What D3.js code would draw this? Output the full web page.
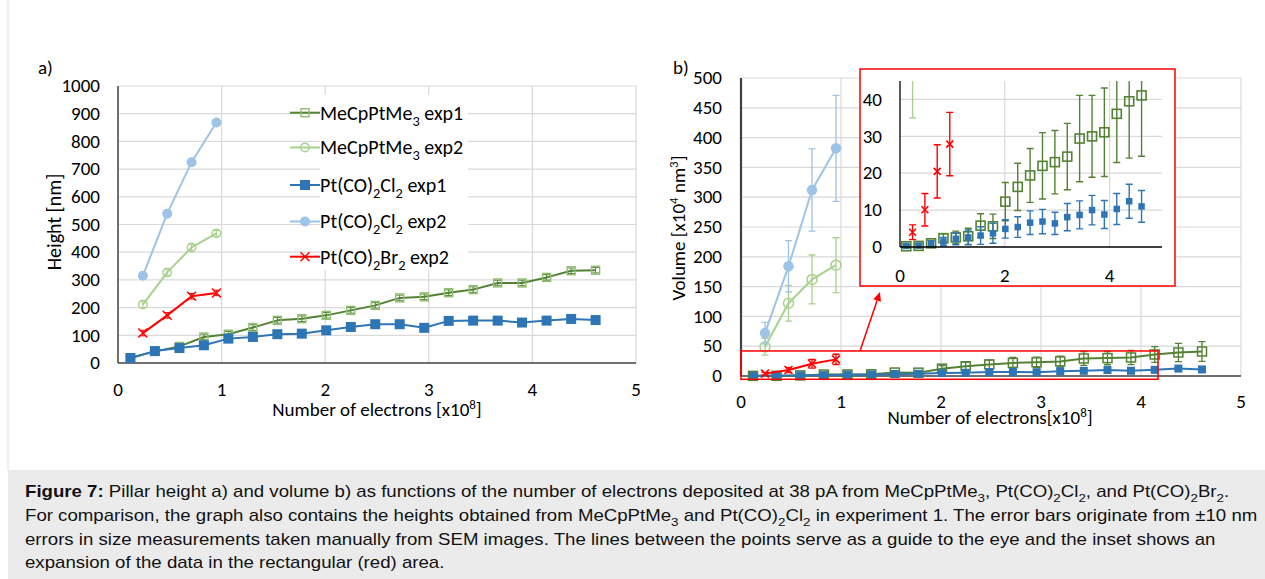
<!DOCTYPE html>
<html><head><meta charset="utf-8">
<script src="https://cdn.jsdelivr.net/npm/d3@7"></script>
<style>
html,body{margin:0;padding:0;background:#fff;overflow:hidden}
svg{display:block}
text{white-space:pre}
</style></head>
<body>
<svg id="fig" width="1265" height="579"></svg>
<script>
// ---------------- DATA ----------------
const seriesNames = ["MeCpPtMe_{3} exp1", "MeCpPtMe_{3} exp2", "Pt(CO)_{2}Cl_{2} exp1", "Pt(CO)_{2}Cl_{2} exp2", "Pt(CO)_{2}Br_{2} exp2"];
const electronsExp1 = [0.12, 0.356, 0.593, 0.829, 1.065, 1.302, 1.538, 1.774, 2.01, 2.247, 2.483, 2.719, 2.956, 3.192, 3.428, 3.665, 3.9, 4.137, 4.374, 4.61];
const electronsExp2 = [0.24, 0.475, 0.71, 0.95];

// a) heights [nm]
const heightMeCpExp1 = [18, 42, 60, 94, 104, 128, 154, 160, 172, 190, 208, 235, 239, 254, 265, 289, 289, 309, 333, 335];
const heightMeCpExp2 = [211, 327, 417, 468];
const heightClExp1 = [18, 43, 54, 64, 88, 94, 104, 106, 118, 130, 140, 140, 127, 152, 153, 153, 146, 153, 159, 155];
const heightClExp2 = [315, 539, 725, 868];
const heightBrExp2 = [108, 172, 241, 253];
const heightError = 10;

// b) volumes [x10^4 nm^3]
const volMeCpExp1 = [0.2, 0.3, 1.0, 2.4, 2.6, 2.9, 5.8, 5.6, 12.3, 16.3, 19.4, 22.0, 23.0, 24.5, 29.4, 30.0, 31.1, 36.1, 39.5, 41.1];
const errMeCpExp1 = [0.4, 0.5, 0.8, 1.2, 1.7, 2.2, 3.2, 3.3, 5.2, 6.4, 7.3, 9.0, 8.6, 9.0, 11.7, 11.1, 12.0, 13.2, 15.4, 16.5];
const volMeCpExp2 = [49, 122, 162, 186];
const errMeCpExp2 = [14, 30, 41, 46];
const volClExp1 = [0.3, 0.4, 0.9, 1.5, 2.2, 2.6, 3.1, 3.7, 4.9, 5.4, 6.6, 6.9, 6.4, 8.1, 8.7, 10.0, 8.8, 10.3, 12.4, 11.0];
const errClExp1 = [0.3, 0.5, 0.8, 1.1, 1.6, 2.0, 2.4, 2.7, 2.5, 2.8, 3.2, 3.3, 3.0, 3.7, 3.8, 4.0, 3.8, 4.2, 4.6, 4.3];
const volClExp2 = [72, 184, 312, 382];
const errClExp2 = [18, 43, 69, 89];
const volBrExp2 = [4.0, 10.1, 20.5, 27.9];
const errBrExp2 = [2.0, 4.4, 7.2, 8.6];

// ticks
const xTicksMain = [0, 1, 2, 3, 4, 5];
const yTicksHeight = [0, 100, 200, 300, 400, 500, 600, 700, 800, 900, 1000];
const yTicksVolume = [0, 50, 100, 150, 200, 250, 300, 350, 400, 450, 500];
const xTicksInset = [0, 2, 4];
const yTicksInset = [0, 10, 20, 30, 40];
const xGridInset = [2, 4];

// zoomed region (red rectangle) and arrow, in data units of chart b
const insetRegionX = [0, 4.17];
const insetRegionY = [-5.5, 42];
const arrowFrom = [1.19, 42];
const arrowTo = [1.39, 141];

// texts
const titleA = "a)", titleB = "b)";
const yTitleA = "Height [nm]";
const xTitleA = "Number of electrons [x10^{8}]";
const yTitleB = "Volume [x10^{4} nm^{3}]";
const xTitleB = "Number of electrons[x10^{8}]";
const captionLines = [
  "**Figure 7:** Pillar height a) and volume b) as functions of the number of electrons deposited at 38 pA from MeCpPtMe_{3}, Pt(CO)_{2}Cl_{2}, and Pt(CO)_{2}Br_{2}.",
  "For comparison, the graph also contains the heights obtained from MeCpPtMe_{3} and Pt(CO)_{2}Cl_{2} in experiment 1. The error bars originate from \u00b110 nm",
  "errors in size measurements taken manually from SEM images. The lines between the points serve as a guide to the eye and the inset shows an",
  "expansion of the data in the rectangular (red) area."
];

// ---------------- STYLE ----------------
const C = {
  meExp1: "#548235", meExp1MarkA: "#8fbf70", meExp2: "#a9d18e",
  clExp1: "#2e75b6", clExp2: "#9dc3e6", br: "#ff0000",
  grid: "#d9d9d9", axis: "#404040", text: "#000"
};
const chartFont = "Carlito, Calibri, Lato, 'Open Sans', sans-serif";
const capFont = "'Liberation Sans', Arial, Helvetica, sans-serif";
const FS = 19;

const svg = d3.select("#fig");

function rich(sel, str, size) {
  const re = /(_\{[^}]*\}|\^\{[^}]*\}|\*\*[^*]*\*\*)/g;
  const parts = str.split(re).filter(s => s !== "");
  let shift = 0;
  parts.forEach(p => {
    let t = p, dy = 0, fs = null, bold = false;
    if (p.startsWith("_{")) { t = p.slice(2, -1); dy = size * 0.3; fs = size * 0.72; }
    else if (p.startsWith("^{")) { t = p.slice(2, -1); dy = -size * 0.38; fs = size * 0.68; }
    else if (p.startsWith("**")) { t = p.slice(2, -2); bold = true; }
    const ts = sel.append("tspan").text(t).attr("dy", (dy - shift).toFixed(2));
    shift = dy;
    if (fs) ts.attr("font-size", fs);
    if (bold) ts.attr("font-weight", "bold");
  });
  return sel;
}

function marker(g, type, cx, cy, s, color, sw) {
  if (type === "sqFilled") g.append("rect").attr("x", cx - s / 2).attr("y", cy - s / 2).attr("width", s).attr("height", s).attr("fill", color);
  else if (type === "sqOpen") g.append("rect").attr("x", cx - s / 2).attr("y", cy - s / 2).attr("width", s).attr("height", s).attr("fill", "none").attr("stroke", color).attr("stroke-width", sw || 1.5);
  else if (type === "circFilled") g.append("circle").attr("cx", cx).attr("cy", cy).attr("r", s / 2).attr("fill", color);
  else if (type === "circOpen") g.append("circle").attr("cx", cx).attr("cy", cy).attr("r", s / 2).attr("fill", "none").attr("stroke", color).attr("stroke-width", sw || 1.5);
  else if (type === "x") {
    const h = s / 2;
    g.append("path").attr("d", `M${cx - h},${cy - h}L${cx + h},${cy + h}M${cx - h},${cy + h}L${cx + h},${cy - h}`).attr("stroke", color).attr("stroke-width", sw || 1.6).attr("fill", "none");
  }
}

function errBars(g, xs, ys, errs, x, y, color, cap, sw) {
  xs.forEach((xv, i) => {
    const e = Array.isArray(errs) ? errs[i] : errs;
    const X = x(xv), y1 = y(ys[i] - e), y2 = y(ys[i] + e);
    g.append("path").attr("d", `M${X},${y1}L${X},${y2}M${X - cap},${y1}L${X + cap},${y1}M${X - cap},${y2}L${X + cap},${y2}`)
      .attr("stroke", color).attr("stroke-width", sw || 1.3).attr("fill", "none");
  });
}

function lineSeries(g, xs, ys, x, y, color, w) {
  g.append("path").datum(xs.map((v, i) => [v, ys[i]]))
    .attr("d", d3.line().x(d => x(d[0])).y(d => y(d[1])))
    .attr("fill", "none").attr("stroke", color).attr("stroke-width", w || 2).attr("stroke-linejoin", "round");
}

function gridAndTicks(g, x, y, xt, yt, opts) {
  const [x0, x1] = x.range(), [y0, y1] = y.range();
  yt.forEach(t => { if (t !== 0) g.append("line").attr("x1", x0).attr("x2", x1).attr("y1", y(t)).attr("y2", y(t)).attr("stroke", C.grid).attr("stroke-width", 1.2); });
  (opts.xGrid || xt).forEach(t => { if (t !== 0) g.append("line").attr("x1", x(t)).attr("x2", x(t)).attr("y1", y0).attr("y2", y1).attr("stroke", C.grid).attr("stroke-width", 1.2); });
  yt.forEach(t => g.append("text").attr("x", x0 - opts.yPad).attr("y", y(t) + 6.2).attr("text-anchor", "end")
    .attr("font-family", chartFont).attr("font-size", opts.fs).attr("fill", C.text).text(t));
  xt.forEach(t => g.append("text").attr("x", x(t)).attr("y", opts.xLabY).attr("text-anchor", "middle")
    .attr("font-family", chartFont).attr("font-size", opts.fs).attr("fill", C.text).text(t));
}

function axesLines(g, x, y, w) {
  const [x0, x1] = x.range(), [y0, y1] = y.range();
  g.append("line").attr("x1", x0).attr("x2", x1).attr("y1", y(0)).attr("y2", y(0)).attr("stroke", C.axis).attr("stroke-width", w);
  g.append("line").attr("x1", x0).attr("x2", x0).attr("y1", y0).attr("y2", y1).attr("stroke", C.axis).attr("stroke-width", w);
}

// ---------------- frame ----------------
svg.append("line").attr("x1", 8).attr("x2", 8).attr("y1", 0).attr("y2", 470).attr("stroke", "#dddddd").attr("stroke-width", 1);

// ---------------- CHART A ----------------
const gA = svg.append("g");
const xA = d3.scaleLinear().domain([0, 5]).range([118, 636]);
const yA = d3.scaleLinear().domain([0, 1000]).range([363, 86]);
gridAndTicks(gA, xA, yA, xTicksMain, yTicksHeight, { yPad: 18, xLabY: 395.5, fs: FS });

const legend = gA.append("g");
legend.append("rect").attr("x", 320).attr("y", 95).attr("width", 148).attr("height", 175).attr("fill", "#fff");

axesLines(gA, xA, yA, 1.5);

const seriesA = [
  { xs: electronsExp1, ys: heightMeCpExp1, line: C.meExp1, mk: "sqOpen", mc: C.meExp1MarkA, ms: 8, ec: C.meExp1 },
  { xs: electronsExp2, ys: heightMeCpExp2, line: C.meExp2, mk: "circOpen", mc: C.meExp2, ms: 8.5, ec: C.meExp2 },
  { xs: electronsExp1, ys: heightClExp1, line: C.clExp1, mk: "sqFilled", mc: C.clExp1, ms: 10, ec: C.clExp1 },
  { xs: electronsExp2, ys: heightClExp2, line: C.clExp2, mk: "circFilled", mc: C.clExp2, ms: 10, ec: C.clExp2 },
  { xs: electronsExp2, ys: heightBrExp2, line: C.br, mk: "x", mc: C.br, ms: 9, ec: C.br }
];
seriesA.forEach(s => {
  lineSeries(gA, s.xs, s.ys, xA, yA, s.line, 2);
  errBars(gA, s.xs, s.ys, heightError, xA, yA, s.ec, 3.5, 1);
  s.xs.forEach((v, i) => marker(gA, s.mk, xA(v), yA(s.ys[i]), s.ms, s.mc, 1.4));
});

const legRows = [112.7, 147.5, 185, 221.5, 256.7];
const LFS = 20;
seriesA.forEach((s, i) => {
  const ly = legRows[i];
  legend.append("line").attr("x1", 290).attr("x2", 320).attr("y1", ly).attr("y2", ly).attr("stroke", s.line).attr("stroke-width", 2);
  marker(legend, s.mk, 305, ly, s.ms, s.mc, 1.4);
  rich(legend.append("text").attr("x", 320).attr("y", ly + 6.8).attr("font-family", chartFont).attr("font-size", LFS).attr("fill", C.text), seriesNames[i], LFS);
});

gA.append("text").attr("x", 38).attr("y", 74).attr("font-family", chartFont).attr("font-size", FS).text(titleA);
rich(gA.append("text").attr("transform", "translate(61,222) rotate(-90)").attr("text-anchor", "middle")
  .attr("font-family", chartFont).attr("font-size", 20), yTitleA, 20);
rich(gA.append("text").attr("x", 377).attr("y", 416).attr("text-anchor", "middle")
  .attr("font-family", chartFont).attr("font-size", FS), xTitleA, FS);

// ---------------- CHART B ----------------
const gB = svg.append("g");
const xB = d3.scaleLinear().domain([0, 5]).range([741, 1241]);
const yB = d3.scaleLinear().domain([0, 500]).range([376, 78]);
gridAndTicks(gB, xB, yB, xTicksMain, yTicksVolume, { yPad: 19, xLabY: 408, fs: FS });
axesLines(gB, xB, yB, 1.5);
gB.append("line").attr("x1", 741).attr("x2", 741).attr("y1", 78).attr("y2", 376).attr("stroke", C.axis).attr("stroke-width", 2.2);

const seriesB = [
  { xs: electronsExp1, ys: volMeCpExp1, es: errMeCpExp1, line: C.meExp1, mk: "sqOpen", mc: C.meExp1, ms: 9, ec: C.meExp1 },
  { xs: electronsExp2, ys: volMeCpExp2, es: errMeCpExp2, line: C.meExp2, mk: "circOpen", mc: C.meExp2, ms: 10, ec: C.meExp2 },
  { xs: electronsExp1, ys: volClExp1, es: errClExp1, line: C.clExp1, mk: "sqFilled", mc: C.clExp1, ms: 8, ec: C.clExp1 },
  { xs: electronsExp2, ys: volClExp2, es: errClExp2, line: C.clExp2, mk: "circFilled", mc: C.clExp2, ms: 10.5, ec: C.clExp2 },
  { xs: electronsExp2, ys: volBrExp2, es: errBrExp2, line: C.br, mk: "x", mc: C.br, ms: 8, ec: C.br }
];
seriesB.forEach(s => {
  errBars(gB, s.xs, s.ys, s.es, xB, yB, s.ec, 3.5, 1.3);
  lineSeries(gB, s.xs, s.ys, xB, yB, s.line, 2);
  s.xs.forEach((v, i) => marker(gB, s.mk, xB(v), yB(s.ys[i]), s.ms, s.mc, 1.5));
});

gB.append("rect").attr("x", xB(insetRegionX[0])).attr("y", yB(insetRegionY[1]))
  .attr("width", xB(insetRegionX[1]) - xB(insetRegionX[0])).attr("height", yB(insetRegionY[0]) - yB(insetRegionY[1]))
  .attr("fill", "none").attr("stroke", C.br).attr("stroke-width", 1.5);

{
  const ax0 = xB(arrowFrom[0]), ay0 = yB(arrowFrom[1]), ax1 = xB(arrowTo[0]), ay1 = yB(arrowTo[1]);
  const ang = Math.atan2(ay1 - ay0, ax1 - ax0), L = 9, W = 4;
  const bx = ax1 - L * Math.cos(ang), by = ay1 - L * Math.sin(ang);
  gB.append("line").attr("x1", ax0).attr("y1", ay0).attr("x2", bx).attr("y2", by).attr("stroke", C.br).attr("stroke-width", 1.5);
  gB.append("path").attr("d", `M${ax1},${ay1}L${bx + W * Math.sin(ang)},${by - W * Math.cos(ang)}L${bx - W * Math.sin(ang)},${by + W * Math.cos(ang)}Z`).attr("fill", C.br);
}

gB.append("text").attr("x", 673).attr("y", 74).attr("font-family", chartFont).attr("font-size", FS).text(titleB);
rich(gB.append("text").attr("transform", "translate(685,228) rotate(-90)").attr("text-anchor", "middle")
  .attr("font-family", chartFont).attr("font-size", FS), yTitleB, FS);
rich(gB.append("text").attr("x", 990).attr("y", 424).attr("text-anchor", "middle")
  .attr("font-family", chartFont).attr("font-size", FS), xTitleB, FS);

// ---------------- INSET ----------------
const gI = svg.append("g");
gI.append("rect").attr("x", 860).attr("y", 69).attr("width", 315).attr("height", 217).attr("fill", "#fff").attr("stroke", C.br).attr("stroke-width", 1.5);
const xI = d3.scaleLinear().domain([0, 5]).range([900, 1162]);
const yI = d3.scaleLinear().domain([0, 45]).range([247, 81]);
gridAndTicks(gI, xI, yI, xTicksInset, yTicksInset, { yPad: 18, xLabY: 281.5, fs: FS, xGrid: xGridInset });
svg.append("clipPath").attr("id", "insetClip").append("rect").attr("x", 899).attr("y", 81).attr("width", 264).attr("height", 172);
const gIc = gI.append("g").attr("clip-path", "url(#insetClip)");
const insetStyle = [
  { mk: "sqOpen", ms: 9, sw: 1.6 }, { mk: "circOpen", ms: 10, sw: 1.5 }, { mk: "sqFilled", ms: 6.5, sw: 1 },
  { mk: "circFilled", ms: 10.5, sw: 1 }, { mk: "x", ms: 7, sw: 1.6 }
];
seriesB.forEach((s, k) => {
  errBars(gIc, s.xs, s.ys, s.es, xI, yI, s.ec, 3.5, 1.4);
  s.xs.forEach((v, i) => marker(gIc, insetStyle[k].mk, xI(v), yI(s.ys[i]), insetStyle[k].ms, s.mc, insetStyle[k].sw));
});
gI.append("line").attr("x1", 900).attr("x2", 1162).attr("y1", 247).attr("y2", 247).attr("stroke", "#000").attr("stroke-width", 1.3);
gI.append("line").attr("x1", 900).attr("x2", 900).attr("y1", 81).attr("y2", 247).attr("stroke", "#000").attr("stroke-width", 1.3);

// ---------------- CAPTION ----------------
svg.append("rect").attr("x", 8).attr("y", 470).attr("width", 1257).attr("height", 109).attr("fill", "#ebebeb");
const capBase = [497, 521, 544.5, 568];
const capTexts = captionLines.map(l => rich(svg.append("text").attr("font-family", capFont).attr("font-size", 15.8).attr("fill", "#111"), l, 15.8));
const natural = capTexts[1].node().getComputedTextLength();
const sx = (1258 - 25) / natural;
capTexts.forEach((t, i) => t.attr("transform", `translate(25,${capBase[i]}) scale(${sx.toFixed(4)},1)`));
</script>
</body></html>
